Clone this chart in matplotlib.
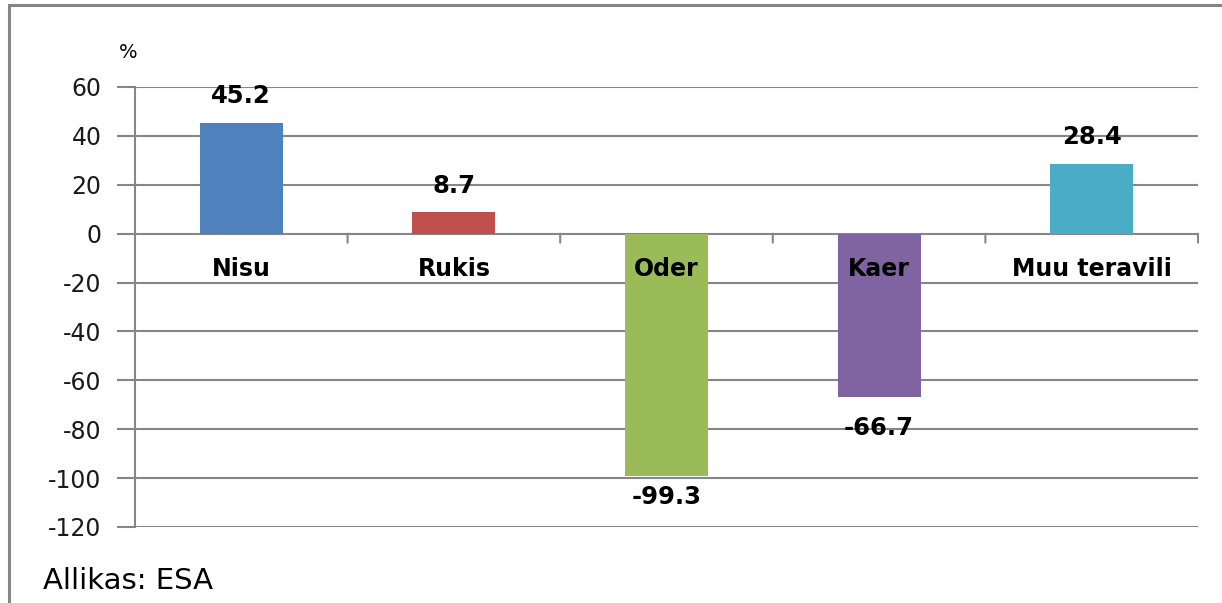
import matplotlib.pyplot as plt
from matplotlib.patches import Rectangle

# andmed
kategooriad = ['Nisu', 'Rukis', 'Oder', 'Kaer', 'Muu teravili']
muutus = [45.2, 8.7, -99.3, -66.7, 28.4]
varvid = ['#4F81BD', '#C0504D', '#9BBB59', '#8064A2', '#4BACC6']
y_ticks = [60, 40, 20, 0, -20, -40, -60, -80, -100, -120]

grid_col = '#868686'

fig = plt.figure(figsize=(12.22, 6.03), dpi=100)
ax = fig.add_axes([135 / 1222, 1 - 527 / 603, 1063 / 1222, 440 / 603])

x = list(range(len(kategooriad)))
ax.bar(x, muutus, width=0.39, color=varvid, zorder=3)

ax.set_xlim(-0.5, len(kategooriad) - 0.5)
ax.set_ylim(-120, 60)
ax.set_yticks(y_ticks)
ax.set_yticklabels([str(t) for t in y_ticks], fontsize=17, color='#1a1a1a')
ax.tick_params(axis='y', length=13, width=1.5, color=grid_col, pad=11)
ax.set_xticks([])
ax.grid(axis='y', color=grid_col, linewidth=1.5, zorder=0)

for s in ['top', 'right', 'bottom']:
    ax.spines[s].set_visible(False)
ax.spines['left'].set_color(grid_col)
ax.spines['left'].set_linewidth(1.5)

# kategooriate piiride tikid nulljoonel
for b in range(1, len(kategooriad) + 1):
    ax.annotate('', xy=(b - 0.5, 0), xytext=(0, -9), textcoords='offset pixels',
                arrowprops=dict(arrowstyle='-', color=grid_col, lw=1.5,
                                shrinkA=0, shrinkB=0))

# väärtused ja nimed
for i, (k, v) in enumerate(zip(kategooriad, muutus)):
    if v > 0:
        ly = v + 11
    else:
        ly = max(v - 12.7, -107.6)  # silt jääb joonise alale
    ax.text(i, ly, f'{v:.1f}', ha='center', va='center', fontsize=17.5,
            fontweight='bold', zorder=5)
    ax.annotate(k, xy=(i, 0), xytext=(0, -35), textcoords='offset pixels',
                ha='center', va='center', fontsize=17, fontweight='bold', zorder=5)

fig.text(128 / 1222, 1 - 53 / 603, '%', fontsize=14, ha='center', va='center')
fig.text(43 / 1222, 1 - 581 / 603, 'Allikas: ESA', fontsize=21, ha='left', va='center')

# raam
fig.patches.append(Rectangle((9 / 1222, -0.1), 1.2, 1 - 5 / 603 + 0.1,
                             transform=fig.transFigure, fill=False,
                             edgecolor=grid_col, linewidth=2.2))

fig.savefig('out.png', dpi=100)
